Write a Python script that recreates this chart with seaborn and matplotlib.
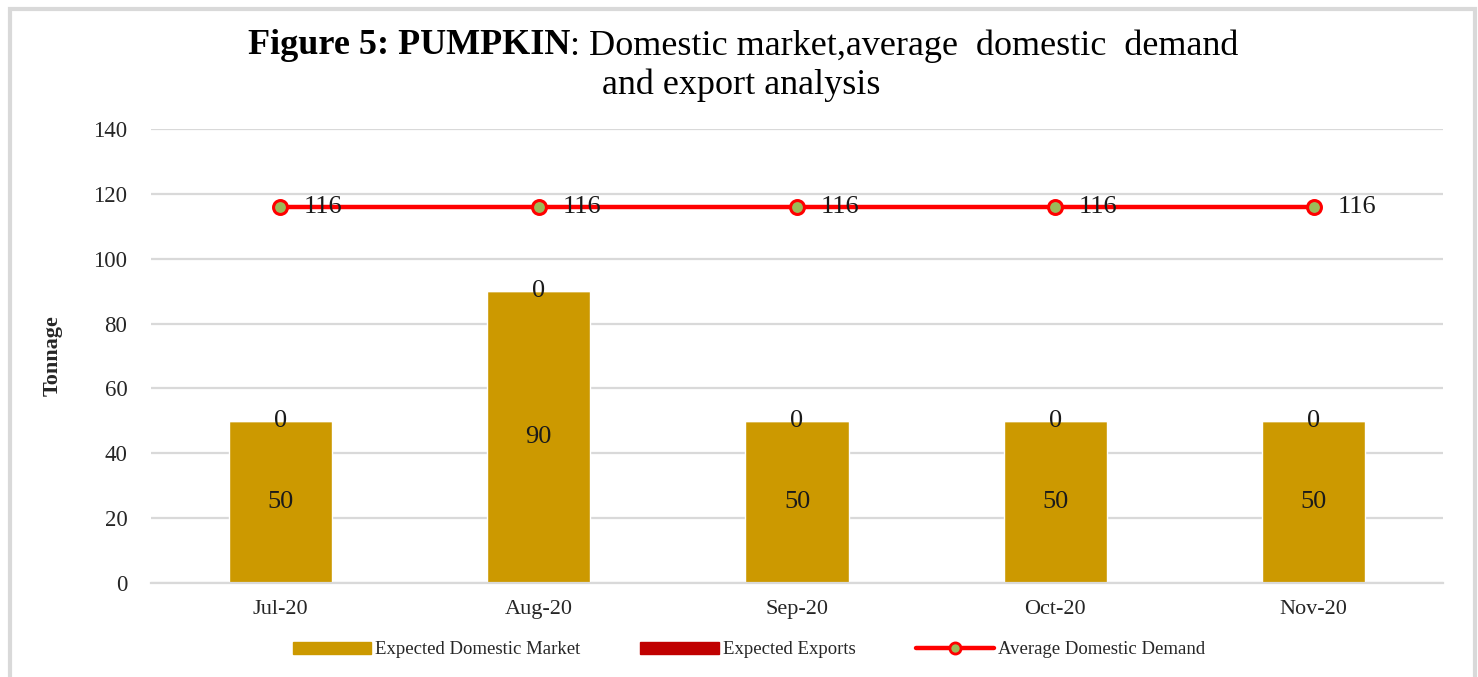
import numpy as np
import pandas as pd
import matplotlib
matplotlib.use("Agg")
import matplotlib.pyplot as plt
from matplotlib.patches import Rectangle, Patch
from matplotlib.lines import Line2D
import seaborn as sns

# Monthly figures (tonnes)
months = ["Jul-20", "Aug-20", "Sep-20", "Oct-20", "Nov-20"]
domestic_market = [50, 90, 50, 50, 50]
exports = [0, 0, 0, 0, 0]
avg_demand = [116, 116, 116, 116, 116]
y_ticks = [0, 20, 40, 60, 80, 100, 120, 140]

GOLD = "#CC9900"
EXPORT_RED = "#C00000"
LINE_RED = "#FF0000"
MARKER_GREEN = "#9BBB59"
GRID = "#D9D9D9"

sns.set_theme(style="white")
plt.rcParams["font.family"] = ["Liberation Serif", "DejaVu Serif"]

fig = plt.figure(figsize=(14.78, 6.77), dpi=100)
ax = fig.add_axes([151 / 1478, 1 - 583 / 677, (1443 - 151) / 1478, (583 - 129) / 677])

df = pd.DataFrame({"month": months, "domestic": domestic_market,
                   "exports": exports, "demand": avg_demand})

# Stacked bars: domestic market, exports on top
sns.barplot(data=df, x="month", y="domestic", color=GOLD, saturation=1,
            width=0.4, ax=ax, zorder=2)
pos = np.arange(len(months))
ax.bar(pos, df["exports"], bottom=df["domestic"], width=0.4,
       color=EXPORT_RED, zorder=2)

# Average domestic demand line
sns.lineplot(x=pos, y=df["demand"], ax=ax, color=LINE_RED, linewidth=3.2,
             marker="o", markersize=10, markerfacecolor=MARKER_GREEN,
             markeredgecolor=LINE_RED, markeredgewidth=2.2, zorder=4)

# Data labels
LBL = 19
for i, (d, e, a) in enumerate(zip(domestic_market, exports, avg_demand)):
    ax.text(i, d / 2, f"{d}", ha="center", va="center", fontsize=LBL, color="#1a1a1a", zorder=5)
    ax.text(i, d + e / 2, f"{e}", ha="center", va="center", fontsize=LBL, color="#1a1a1a", zorder=5)
    ax.annotate(f"{a}", (i, a), xytext=(17, 0), textcoords="offset points",
                ha="left", va="center", fontsize=LBL, color="#1a1a1a", zorder=5)

ax.set_xlim(-0.5, len(months) - 0.5)
ax.set_ylim(0, 140)
ax.set_yticks(y_ticks)
ax.set_yticklabels([str(t) for t in y_ticks], fontsize=16.5, color="#262626")
ax.yaxis.grid(True, color=GRID, linewidth=1.6, zorder=0)
ax.set_axisbelow(True)
ax.tick_params(axis="y", length=0, pad=17)

# Category labels centred, tick marks at category boundaries
ax.set_xticks(pos)
ax.set_xticklabels(months, fontsize=16, color="#262626")
ax.set_xticks(np.arange(-0.5, len(months)), minor=True)
ax.tick_params(axis="x", which="major", length=0, pad=12)
ax.tick_params(axis="x", which="minor", length=5, width=1.5, color=GRID, direction="out")
ax.set_xlabel("")
ax.set_ylabel("Tonnage", fontsize=16, fontweight="bold", labelpad=22)

for side in ["top", "right", "left"]:
    ax.spines[side].set_visible(False)
ax.spines["bottom"].set_color(GRID)
ax.spines["bottom"].set_linewidth(1.6)

# Legend
handles = [
    Patch(facecolor=GOLD, edgecolor=GOLD, label="Expected Domestic Market"),
    Patch(facecolor=EXPORT_RED, edgecolor=EXPORT_RED, label="Expected Exports"),
    Line2D([0], [0], color=LINE_RED, linewidth=3.2, marker="o", markersize=8,
           markerfacecolor=MARKER_GREEN, markeredgecolor=LINE_RED,
           markeredgewidth=2, label="Average Domestic Demand"),
]
fig.legend(handles=handles, loc="center", bbox_to_anchor=(749 / 1478, 1 - 650 / 677),
           ncol=3, frameon=False, fontsize=13.5, handlelength=4.2, handleheight=0.55,
           columnspacing=3.2, handletextpad=0.2)

# Title: bold lead followed by regular text, centred as one line
renderer = fig.canvas.get_renderer()
TSIZE = 26
y1 = 1 - 46 / 677
t_bold = fig.text(0, y1, "Figure 5: PUMPKIN", fontsize=TSIZE, fontweight="bold",
                  va="center", ha="left", color="black")
t_reg = fig.text(0, y1, ": Domestic market,average  domestic  demand", fontsize=TSIZE,
                 va="center", ha="left", color="black")
wb = t_bold.get_window_extent(renderer).width
wr = t_reg.get_window_extent(renderer).width
x0 = (743 - (wb + wr) / 2) / 1478
t_bold.set_x(x0)
t_reg.set_x(x0 + wb / 1478)
fig.text(741 / 1478, 1 - 85 / 677, "and export analysis", fontsize=TSIZE,
         ha="center", va="center", color="black")

# Outer frame
fig.patches.append(Rectangle((10 / 1478, -0.05), (1475 - 10) / 1478, 1.05 - 8.5 / 677,
                             transform=fig.transFigure, fill=False,
                             edgecolor=GRID, linewidth=3, zorder=10))

fig.savefig("out.png", dpi=100, facecolor="white")
